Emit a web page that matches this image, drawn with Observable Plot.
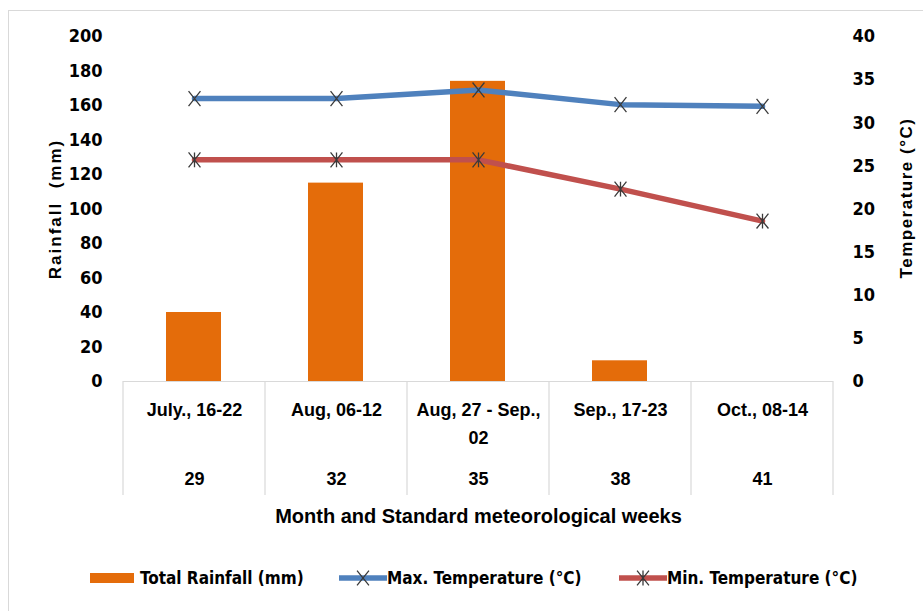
<!DOCTYPE html>
<html><head><meta charset="utf-8">
<script src="https://cdn.jsdelivr.net/npm/d3@7"></script>
<script src="https://cdn.jsdelivr.net/npm/@observablehq/plot@0.6"></script>
<style>
html,body{margin:0;padding:0;background:#fff;overflow:hidden;width:923px;height:611px;}
#frame{position:absolute;left:8px;top:10px;width:960px;height:660px;border:1px solid #d9d9d9;box-sizing:border-box;}
#chart{position:absolute;left:0;top:0;}
#legend{position:absolute;left:0;top:566px;width:923px;height:24px;font-family:"Liberation Sans Narrow","DejaVu Sans Condensed",sans-serif;font-weight:bold;font-size:17px;color:#000;}
.item{position:absolute;top:0;height:24px;display:flex;align-items:center;white-space:nowrap;}
.item svg{display:block;}
</style></head><body>
<div id="frame"></div>
<div id="chart"></div>
<div id="legend"></div>
<script>
const categories = ["July., 16-22", "Aug, 06-12", "Aug, 27 - Sep., 02", "Sep., 17-23", "Oct., 08-14"];
const categoryLabels = ["July., 16-22", "Aug, 06-12", "Aug, 27 - Sep.,\n02", "Sep., 17-23", "Oct., 08-14"];
const weeks = [29, 32, 35, 38, 41];
const rainfall = [40, 115, 174, 12, 0];
const maxTemp = [32.8, 32.8, 33.8, 32.1, 31.9];
const minTemp = [25.7, 25.7, 25.7, 22.3, 18.6];
const rainTicks = [0, 20, 40, 60, 80, 100, 120, 140, 160, 180, 200];
const tempTicks = [0, 5, 10, 15, 20, 25, 30, 35, 40];
const seriesNames = ["Total Rainfall (mm)", "Max. Temperature (°C)", "Min. Temperature (°C)"];
const xTitle = "Month and Standard meteorological weeks";
const yLeftTitle = "Rainfall  (mm)";
const yRightTitle = "Temperature (°C)";

const rainMax = 200, tempMax = 40;
const k = rainMax / tempMax; // temperature -> rainfall axis

const COL_RAIN = "#E46C0A", COL_MAX = "#4F81BD", COL_MIN = "#C0504D";
const NARROW = '"Liberation Sans Narrow","DejaVu Sans Condensed",sans-serif';
const SANS = '"Liberation Sans",Arial,sans-serif';

const rows = categories.map((c, i) => ({
  cat: c, label: categoryLabels[i], week: String(weeks[i]),
  rain: rainfall[i], tmax: maxTemp[i], tmin: minTemp[i]
}));

const timesSym = {draw(ctx, size) {
  const r = Math.sqrt(size) * 0.6, w = r * 0.8;
  ctx.moveTo(-w, -r); ctx.lineTo(w, r);
  ctx.moveTo(-w, r); ctx.lineTo(w, -r);
}};
const starSym = {draw(ctx, size) {
  const r = Math.sqrt(size) * 0.6, w = r * 0.8;
  ctx.moveTo(-w, -r); ctx.lineTo(w, r);
  ctx.moveTo(-w, r); ctx.lineTo(w, -r);
  ctx.moveTo(0, -r); ctx.lineTo(0, r);
}};

function tableLines(index, scales, values, dimensions) {
  const x = scales.x;
  const bw = typeof x.bandwidth === "function" ? x.bandwidth() : x.bandwidth;
  const y0 = dimensions.height - dimensions.marginBottom;
  const edges = categories.map(c => x(c)).concat([x(categories[categories.length - 1]) + bw]);
  const g = d3.create("svg:g").attr("stroke", "#d9d9d9").attr("stroke-width", 1.2);
  for (const e of edges) g.append("line").attr("x1", e).attr("x2", e).attr("y1", y0).attr("y2", y0 + 114);
  return g.node();
}

const chart = Plot.plot({
  width: 923, height: 540,
  marginLeft: 123, marginRight: 90, marginTop: 36, marginBottom: 159,
  style: {background: "transparent", color: "#000", overflow: "visible"},
  x: {type: "band", domain: categories, padding: 0, axis: null},
  y: {domain: [0, rainMax], axis: null},
  marks: [
    tableLines,
    Plot.ruleY([0], {stroke: "#d9d9d9", strokeWidth: 1.2}),
    Plot.barY(rows, {x: "cat", y: "rain", fill: COL_RAIN, insetLeft: 43, insetRight: 44}),
    Plot.line(rows, {x: "cat", y: d => d.tmax * k, stroke: COL_MAX, strokeWidth: 5.5}),
    Plot.line(rows, {x: "cat", y: d => d.tmin * k, stroke: COL_MIN, strokeWidth: 5.5}),
    Plot.dot(rows, {x: "cat", y: d => d.tmax * k, symbol: timesSym, r: 7, stroke: "#3a3a3a", strokeWidth: 1.3}),
    Plot.dot(rows, {x: "cat", y: d => d.tmin * k, symbol: starSym, r: 7, stroke: "#3a3a3a", strokeWidth: 1.3}),
    Plot.axisY(rainTicks, {anchor: "left", tickSize: 0, tickPadding: 21, label: null,
      fontFamily: NARROW, fontWeight: "bold", fontSize: 18}),
    Plot.axisY(tempTicks.map(t => t * k), {anchor: "right", tickSize: 0, tickPadding: 19, label: null,
      tickFormat: d => String(d / k), fontFamily: NARROW, fontWeight: "bold", fontSize: 18}),
    Plot.text(rows, {x: "cat", text: "label", frameAnchor: "bottom", lineAnchor: "top", dy: 15,
      lineHeight: 1.55, fontFamily: SANS, fontWeight: "bold", fontSize: 18}),
    Plot.text(rows, {x: "cat", text: "week", frameAnchor: "bottom", dy: 103,
      fontFamily: SANS, fontWeight: "bold", fontSize: 18}),
    Plot.text([xTitle], {frameAnchor: "bottom", dy: 141, fontFamily: SANS, fontWeight: "bold", fontSize: 20}),
    Plot.text([yLeftTitle], {frameAnchor: "left", textAnchor: "middle", dx: -68, rotate: -90,
      fontFamily: SANS, fontWeight: "bold", fontSize: 17}),
    Plot.text([yRightTitle], {frameAnchor: "right", textAnchor: "middle", dx: 73, dy: -11, rotate: -90,
      fontFamily: SANS, fontWeight: "bold", fontSize: 17})
  ]
});
document.getElementById("chart").appendChild(chart);
// letter spacing on rotated titles
d3.select(chart).selectAll("text").filter(function() { return this.textContent === yLeftTitle; })
  .style("letter-spacing", "2px").style("white-space", "pre");
d3.select(chart).selectAll("text").filter(function() { return this.textContent === yRightTitle; })
  .style("letter-spacing", "1.5px");

// Legend
const legend = d3.select("#legend");
const items = [
  {name: seriesNames[0], kind: "bar", color: COL_RAIN, left: 90},
  {name: seriesNames[1], kind: "line", color: COL_MAX, sym: timesSym, left: 339},
  {name: seriesNames[2], kind: "line", color: COL_MIN, sym: starSym, left: 619}
];
for (const it of items) {
  const div = legend.append("div").attr("class", "item").style("left", it.left + "px");
  const sw = div.append("svg").attr("width", it.kind === "bar" ? 50 : 48).attr("height", 24);
  if (it.kind === "bar") {
    sw.append("rect").attr("x", 0).attr("y", 7).attr("width", 44).attr("height", 10).attr("fill", it.color);
  } else {
    sw.append("line").attr("x1", 1).attr("x2", 47).attr("y1", 12).attr("y2", 12)
      .attr("stroke", it.color).attr("stroke-width", 5.5).attr("stroke-linecap", "round");
    sw.append("path").attr("transform", "translate(24,12)")
      .attr("d", d3.symbol(it.sym, 7 * 7 * Math.PI)())
      .attr("fill", "none").attr("stroke", "#3a3a3a").attr("stroke-width", 1.3);
  }
  div.append("span").text(it.name);
}
</script>
</body></html>
